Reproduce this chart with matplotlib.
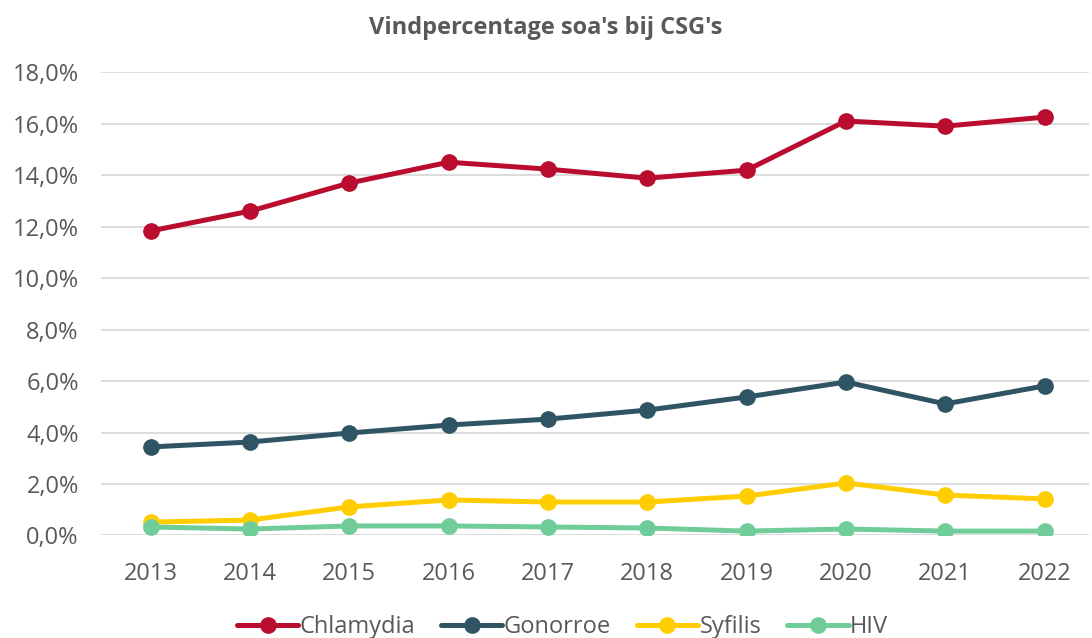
import matplotlib.pyplot as plt
from matplotlib.ticker import FuncFormatter

plt.rcParams['font.family'] = ['Open Sans', 'DejaVu Sans']

years = ['2013', '2014', '2015', '2016', '2017', '2018', '2019', '2020', '2021', '2022']
chlamydia = [11.83, 12.60, 13.69, 14.50, 14.23, 13.88, 14.19, 16.10, 15.90, 16.25]
gonorroe = [3.44, 3.63, 3.98, 4.29, 4.52, 4.87, 5.38, 5.96, 5.11, 5.81]
syfilis = [0.52, 0.60, 1.11, 1.38, 1.30, 1.30, 1.53, 2.04, 1.57, 1.42]
hiv = [0.33, 0.25, 0.37, 0.37, 0.33, 0.29, 0.17, 0.25, 0.17, 0.17]

series = [
    ('Chlamydia', chlamydia, '#BA0C2F'),
    ('Gonorroe', gonorroe, '#2F5564'),
    ('Syfilis', syfilis, '#FFCD00'),
    ('HIV', hiv, '#70CC99'),
]

fig = plt.figure(figsize=(10.92, 6.38), dpi=100)
ax = fig.add_axes([0.0925, 0.1607, 0.905, 0.7263])

x = range(len(years))
for name, vals, col in series:
    ax.plot(x, vals, color=col, linewidth=3.6, marker='o', markersize=11,
            solid_capstyle='round', label=name, zorder=3)

ax.set_ylim(0, 18)
ax.set_yticks(range(0, 19, 2))
ax.yaxis.set_major_formatter(FuncFormatter(lambda v, p: f'{v:.1f}%'.replace('.', ',')))
ax.set_xlim(-0.5, 9.45)
ax.set_xticks(list(x))
ax.set_xticklabels(years)
ax.grid(axis='y', color='#D9D9D9', linewidth=1.3, zorder=0)
ax.set_axisbelow(True)
for s in ax.spines.values():
    s.set_visible(False)
ax.tick_params(length=0, labelsize=17, labelcolor='#595959')
ax.tick_params(axis='x', pad=19)
ax.tick_params(axis='y', pad=16)

fig.suptitle("Vindpercentage soa's bij CSG's", y=0.975, fontsize=17,
             fontweight='bold', color='#595959')

fig.legend(loc='lower center', bbox_to_anchor=(0.515, -0.035), ncol=4, frameon=False,
           fontsize=17, labelcolor='#595959', handlelength=2.6, handletextpad=0.05,
           columnspacing=1.1)

fig.savefig('out.png', dpi=100)
